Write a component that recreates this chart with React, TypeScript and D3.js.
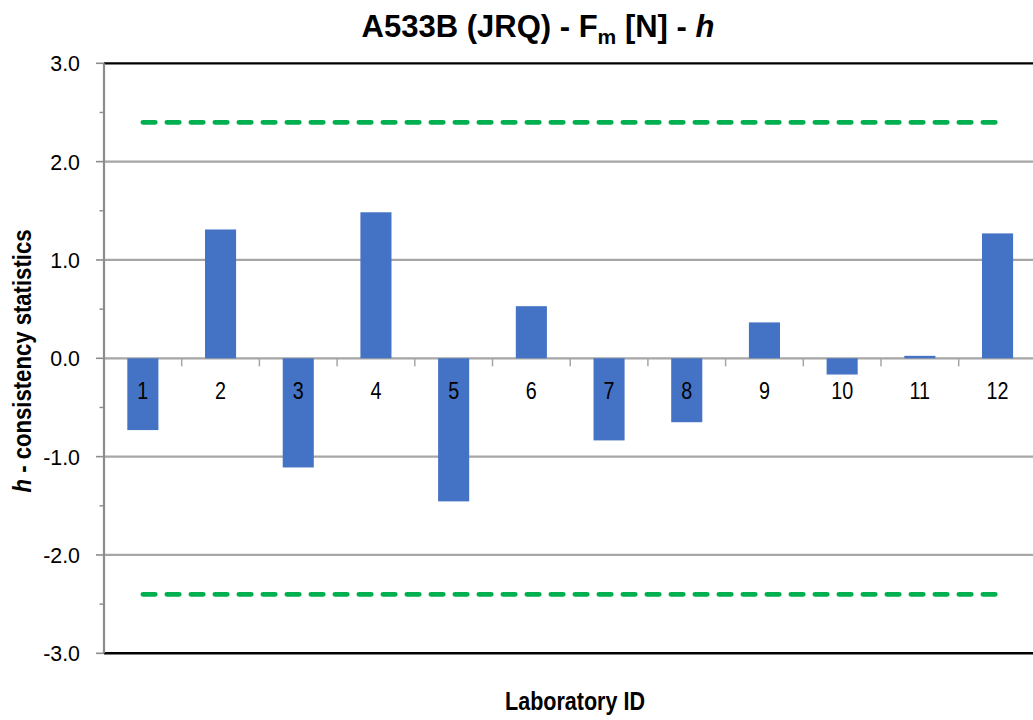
import React from "react";
import * as d3 from "d3";

// Mandel's h consistency statistic per laboratory
const labs: string[] = ["1", "2", "3", "4", "5", "6", "7", "8", "9", "10", "11", "12"];
const hValues: number[] = [-0.73, 1.31, -1.11, 1.485, -1.455, 0.53, -0.835, -0.65, 0.365, -0.165, 0.025, 1.27];
const criticalH: number[] = [2.4, -2.4];
const majorTicks: number[] = [3, 2, 1, 0, -1, -2, -3];
const minorTicks: number[] = [2.5, 1.5, 0.5, -0.5, -1.5, -2.5];

const W = 1033;
const H = 720;
const FONT = "'Liberation Sans Narrow', 'Arial Narrow', 'Liberation Sans', Arial, sans-serif";

export default function App() {
  const left = 104;
  const right = 1036.4;
  const top = 63.3;
  const bottom = 653.3;

  const x = d3.scaleBand<string>().domain(labs).range([left, right]).paddingInner(0.6).paddingOuter(0.3);
  const step = x.step();
  const y = d3.scaleLinear().domain([-3, 3]).range([bottom, top]);
  const y0 = y(0);

  const firstCenter = (x(labs[0]) ?? 0) + x.bandwidth() / 2;
  const lastCenter = (x(labs[labs.length - 1]) ?? 0) + x.bandwidth() / 2;
  const limitLine = d3.line<[number, number]>().x((d) => d[0]).y((d) => d[1]);

  return (
    <svg width={W} height={H} style={{ position: "absolute", left: 0, top: 0, background: "#fff" }} fontFamily={FONT}>
      <rect x={0} y={0} width={W} height={H} fill="#fff" />

      {/* title */}
      <text x={538} y={37} textAnchor="middle" fontSize={31} fontWeight="bold" fill="#000">
        A533B (JRQ) - F
        <tspan fontSize={21} dy={7}>m</tspan>
        <tspan dy={-7}> [N] - </tspan>
        <tspan fontStyle="italic">h</tspan>
      </text>

      {/* horizontal gridlines */}
      {majorTicks
        .filter((t) => t !== 3 && t !== -3)
        .map((t) => (
          <line key={"g" + t} x1={left} x2={W} y1={y(t)} y2={y(t)} stroke="#a6a6a6" strokeWidth={2.2} />
        ))}

      {/* plot frame top/bottom */}
      <line x1={left} x2={W} y1={top} y2={top} stroke="#000" strokeWidth={2.2} />
      <line x1={left} x2={W} y1={bottom} y2={bottom} stroke="#000" strokeWidth={2.6} />

      {/* bars */}
      {labs.map((lab, i) => {
        const v = hValues[i];
        const yv = y(v);
        return (
          <rect
            key={"b" + lab}
            x={x(lab)}
            y={Math.min(yv, y0)}
            width={x.bandwidth()}
            height={Math.abs(yv - y0)}
            fill="#4472c4"
          />
        );
      })}

      {/* category ticks on the zero line */}
      {d3.range(1, labs.length).map((k) => (
        <line
          key={"xt" + k}
          x1={left + k * step}
          x2={left + k * step}
          y1={y0}
          y2={y0 + 8}
          stroke="#a6a6a6"
          strokeWidth={1.5}
        />
      ))}

      {/* category labels */}
      {labs.map((lab) => (
        <g key={"l" + lab} transform={`translate(${(x(lab) ?? 0) + x.bandwidth() / 2}, ${y0 + 41}) scale(0.86, 1)`}>
          <text x={0} y={0} textAnchor="middle" fontSize={23} fill="#000">
            {lab}
          </text>
        </g>
      ))}

      {/* critical h limits */}
      {criticalH.map((c) => (
        <path
          key={"c" + c}
          d={limitLine([
            [firstCenter, y(c)],
            [lastCenter, y(c)],
          ]) ?? ""}
          stroke="#00b050"
          strokeWidth={4.8}
          strokeLinecap="round"
          strokeDasharray="12.4 11.6"
          fill="none"
        />
      ))}

      {/* left axis */}
      <line x1={left} x2={left} y1={top} y2={bottom} stroke="#8c8c8c" strokeWidth={2.2} />
      {majorTicks.map((t) => (
        <line key={"mt" + t} x1={left - 8} x2={left} y1={y(t)} y2={y(t)} stroke="#8c8c8c" strokeWidth={1.6} />
      ))}
      {minorTicks.map((t) => (
        <line key={"nt" + t} x1={left - 4.5} x2={left} y1={y(t)} y2={y(t)} stroke="#8c8c8c" strokeWidth={1.4} />
      ))}
      {majorTicks.map((t) => (
        <g key={"yl" + t} transform={`translate(80, ${y(t) + 8}) scale(0.93, 1)`}>
          <text x={0} y={0} textAnchor="end" fontSize={23} fill="#000">
            {t.toFixed(1)}
          </text>
        </g>
      ))}

      {/* axis titles */}
      <text
        transform={`translate(31, 361) rotate(-90)`}
        textAnchor="middle"
        fontSize={25}
        fontWeight="bold"
        fill="#000"
        textLength={263}
        lengthAdjust="spacingAndGlyphs"
      >
        <tspan fontStyle="italic">h</tspan> - consistency statistics
      </text>
      <text
        x={575}
        y={710}
        textAnchor="middle"
        fontSize={25}
        fontWeight="bold"
        fill="#000"
        textLength={140}
        lengthAdjust="spacingAndGlyphs"
      >
        Laboratory ID
      </text>
    </svg>
  );
}
